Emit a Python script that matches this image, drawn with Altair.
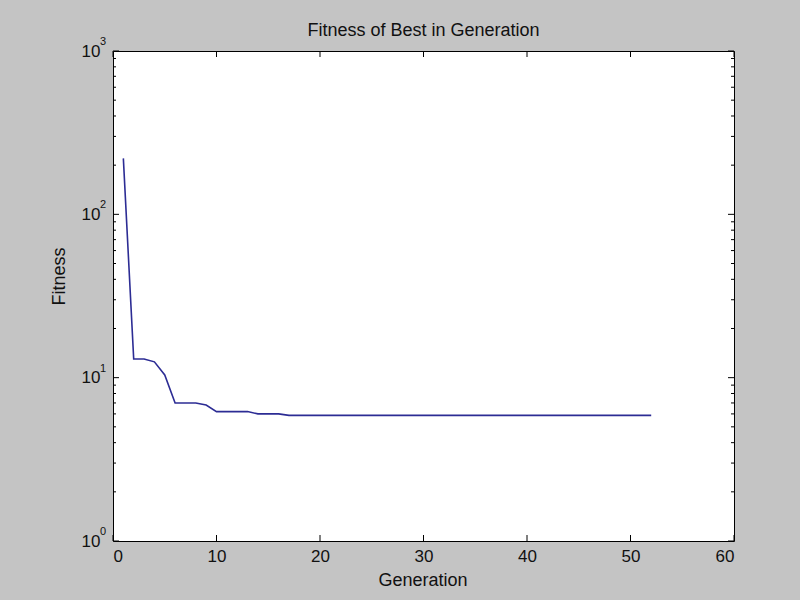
import altair as alt
import pandas as pd

# Best fitness found in each generation of the run
generations = list(range(1, 53))
best_fitness = [
    220, 13.0, 13.0, 12.5, 10.4, 7.0, 7.0, 7.0, 6.8, 6.2,
    6.2, 6.2, 6.2, 6.0, 6.0, 6.0,
] + [5.88] * 36

x_ticks = [0, 10, 20, 30, 40, 50, 60]
y_decades = [1, 10, 100, 1000]
y_exponents = ["0", "1", "2", "3"]
y_minor = [m * d for d in [1, 10, 100] for m in range(2, 10)]

W, H = 621, 490
FONT = "Liberation Sans"

df = pd.DataFrame({"generation": generations, "fitness": best_fitness})
xt = pd.DataFrame({"x": x_ticks})
yt = pd.DataFrame({"y": y_decades, "exp": y_exponents})
ym = pd.DataFrame({"y": y_minor})

xscale = alt.Scale(domain=[0, 60], nice=False, zero=False)
yscale = alt.Scale(type="log", domain=[1, 1000], nice=False)

x_axis = alt.Axis(
    values=x_ticks, ticks=False, domain=False, grid=False,
    labelPadding=7, labelFont=FONT, labelFontSize=17, labelColor="#111",
    title="Generation", titleFont=FONT, titleFontSize=18, titleFontWeight="normal",
    titleColor="#111", titleX=W / 2 - 1, titleY=39, titleBaseline="middle", titleAlign="center",
)
y_axis = alt.Axis(
    values=y_decades, labelExpr="'10'", ticks=False, domain=False, grid=False,
    labelPadding=13, labelFont=FONT, labelFontSize=17, labelColor="#111",
    title="Fitness", titleFont=FONT, titleFontSize=18, titleFontWeight="normal",
    titleColor="#111", titleX=-54, titleY=H / 2 - 20, titleAngle=-90,
    titleBaseline="middle", titleAlign="center",
)

line = alt.Chart(df).mark_line(color="#2c2c94", strokeWidth=1.6).encode(
    x=alt.X("generation:Q", scale=xscale, axis=x_axis),
    y=alt.Y("fitness:Q", scale=yscale, axis=y_axis),
)

# Inward-pointing tick marks on all four sides of the box
tick_style = dict(color="black", strokeWidth=1)
x_bottom = alt.Chart(xt).mark_rule(**tick_style).encode(
    x=alt.X("x:Q", scale=xscale), y=alt.value(H), y2=alt.value(H - 6))
x_top = alt.Chart(xt).mark_rule(**tick_style).encode(
    x=alt.X("x:Q", scale=xscale), y=alt.value(0), y2=alt.value(6))
y_left = alt.Chart(yt).mark_rule(**tick_style).encode(
    y=alt.Y("y:Q", scale=yscale), x=alt.value(0), x2=alt.value(6))
y_right = alt.Chart(yt).mark_rule(**tick_style).encode(
    y=alt.Y("y:Q", scale=yscale), x=alt.value(W), x2=alt.value(W - 6))
ym_left = alt.Chart(ym).mark_rule(**tick_style).encode(
    y=alt.Y("y:Q", scale=yscale), x=alt.value(0), x2=alt.value(3))
ym_right = alt.Chart(ym).mark_rule(**tick_style).encode(
    y=alt.Y("y:Q", scale=yscale), x=alt.value(W), x2=alt.value(W - 3))

# Superscript exponents of the decade labels
exps = alt.Chart(yt).mark_text(
    font=FONT, fontSize=11, color="#111", align="left", baseline="middle", dy=-9
).encode(y=alt.Y("y:Q", scale=yscale), x=alt.value(-13), text="exp:N")

chart = alt.layer(
    line, x_bottom, x_top, y_left, y_right, ym_left, ym_right, exps
).properties(
    width=W, height=H,
    title=alt.TitleParams(
        "Fitness of Best in Generation", font=FONT, fontSize=18,
        fontWeight="normal", color="#111", offset=-4,
    ),
    autosize=alt.AutoSizeParams(type="none"),
    padding={"left": 113, "top": 51, "right": 66, "bottom": 59},
    background="#c4c4c4",
).configure_view(
    fill="white", stroke="black", strokeWidth=1,
)

chart.save("out.html", embed_options={"renderer": "svg", "actions": False})
